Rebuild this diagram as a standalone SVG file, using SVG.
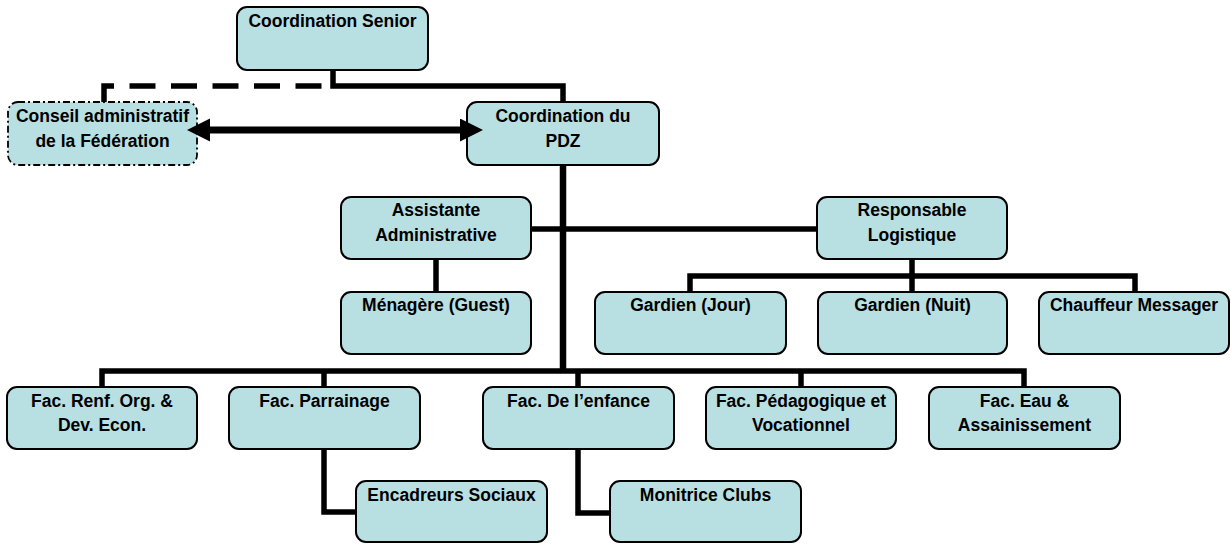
<svg xmlns="http://www.w3.org/2000/svg" width="1231" height="544" viewBox="0 0 1231 544">
  <defs>
    <style>
      .box { fill: #B8DFE2; stroke: #000; stroke-width: 2; }
      .dashbox { fill: #B8DFE2; stroke: #000; stroke-width: 1.8; stroke-dasharray: 7 3 2 3; }
      .lbl { font-family: "Liberation Sans", Arial, sans-serif; font-weight: bold; font-size: 17.5px; fill: #000; text-anchor: middle; }
      .ln { fill: none; stroke: #000; stroke-width: 5.5; stroke-linejoin: miter; stroke-linecap: butt; }
      .trunk { stroke-width: 6.5; }
      .dash { stroke-dasharray: 26 15.5; }
      .arr { fill: none; stroke: #000; stroke-width: 7; }
    </style>
    <marker id="ah" markerUnits="userSpaceOnUse" markerWidth="24" markerHeight="24" refX="5" refY="11.5" orient="auto-start-reverse">
      <path d="M0,0 L23,11.5 L0,23 z" fill="#000"/>
    </marker>
  </defs>

  <g id="coordination-senior">
    <rect class="box" x="237" y="7" width="191" height="63" rx="10"/>
    <text class="lbl" x="332.5" y="27">Coordination Senior</text>
  </g>
  <g id="conseil">
    <rect class="dashbox" x="8" y="102" width="189" height="63" rx="10"/>
    <text class="lbl" x="102.5" y="122">Conseil administratif</text>
    <text class="lbl" x="102.5" y="147">de la Fédération</text>
  </g>
  <g id="coordination-pdz">
    <rect class="box" x="467" y="102" width="192" height="63" rx="10"/>
    <text class="lbl" x="563" y="122">Coordination du</text>
    <text class="lbl" x="563" y="147">PDZ</text>
  </g>
  <g id="assistante">
    <rect class="box" x="341" y="197" width="190" height="62" rx="10"/>
    <text class="lbl" x="436" y="216">Assistante</text>
    <text class="lbl" x="436" y="241">Administrative</text>
  </g>
  <g id="responsable">
    <rect class="box" x="817" y="197" width="190" height="62" rx="10"/>
    <text class="lbl" x="912" y="216">Responsable</text>
    <text class="lbl" x="912" y="241">Logistique</text>
  </g>
  <g id="menagere">
    <rect class="box" x="341" y="292" width="190" height="62" rx="10"/>
    <text class="lbl" x="436" y="311">Ménagère (Guest)</text>
  </g>
  <g id="gardien-jour">
    <rect class="box" x="595" y="292" width="191" height="62" rx="10"/>
    <text class="lbl" x="690.5" y="311">Gardien (Jour)</text>
  </g>
  <g id="gardien-nuit">
    <rect class="box" x="818" y="292" width="189" height="62" rx="10"/>
    <text class="lbl" x="912.5" y="311">Gardien (Nuit)</text>
  </g>
  <g id="chauffeur">
    <rect class="box" x="1039" y="292" width="190" height="62" rx="10"/>
    <text class="lbl" x="1134" y="311">Chauffeur Messager</text>
  </g>
  <g id="fac-renf">
    <rect class="box" x="7" y="387" width="190" height="62" rx="10"/>
    <text class="lbl" x="102" y="407">Fac. Renf. Org. &amp;</text>
    <text class="lbl" x="102" y="431">Dev. Econ.</text>
  </g>
  <g id="fac-parrainage">
    <rect class="box" x="229" y="387" width="191" height="62" rx="10"/>
    <text class="lbl" x="324.5" y="407">Fac. Parrainage</text>
  </g>
  <g id="fac-enfance">
    <rect class="box" x="483" y="387" width="191" height="62" rx="10"/>
    <text class="lbl" x="578.5" y="407">Fac. De l’enfance</text>
  </g>
  <g id="fac-pedagogique">
    <rect class="box" x="706" y="387" width="190" height="62" rx="10"/>
    <text class="lbl" x="801" y="407">Fac. Pédagogique et</text>
    <text class="lbl" x="801" y="431">Vocationnel</text>
  </g>
  <g id="fac-eau">
    <rect class="box" x="929" y="387" width="191" height="62" rx="10"/>
    <text class="lbl" x="1024.5" y="407">Fac. Eau &amp;</text>
    <text class="lbl" x="1024.5" y="431">Assainissement</text>
  </g>
  <g id="encadreurs">
    <rect class="box" x="356" y="481" width="191" height="61" rx="10"/>
    <text class="lbl" x="451.5" y="501">Encadreurs Sociaux</text>
  </g>
  <g id="monitrice">
    <rect class="box" x="610" y="481" width="191" height="61" rx="10"/>
    <text class="lbl" x="705.5" y="501">Monitrice Clubs</text>
  </g>

  <g id="connectors">
    <path class="ln" d="M333,70 V86 H563 V102"/>
    <path class="ln dash" d="M104,102 V86 H333"/>
    <path class="arr" d="M205,130 H465" marker-start="url(#ah)" marker-end="url(#ah)"/>
    <path class="ln trunk" d="M563,165 V371"/>
    <path class="ln" d="M531,229 H817"/>
    <path class="ln" d="M436,259 V292"/>
    <path class="ln" d="M912,259 V276"/>
    <path class="ln" d="M690,292 V276 H1135 V292"/>
    <path class="ln" d="M912,276 V292"/>
    <path class="ln" d="M102,387 V371 H1024 V387"/>
    <path class="ln" d="M324,371 V387"/>
    <path class="ln" d="M578,371 V387"/>
    <path class="ln" d="M801,371 V387"/>
    <path class="ln" d="M324,449 V512 H356"/>
    <path class="ln" d="M578,449 V513 H610"/>
  </g>
</svg>
